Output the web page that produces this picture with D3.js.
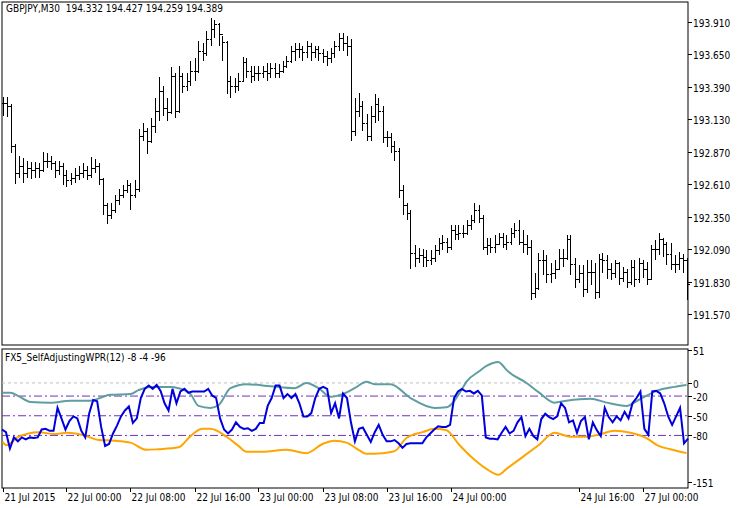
<!DOCTYPE html>
<html>
<head>
<meta charset="utf-8">
<script src="https://cdn.jsdelivr.net/npm/d3@7"></script>
<style>
  body { margin: 0; background: #fff; }
  text { font-family: "DejaVu Sans Condensed", "Liberation Sans Narrow", sans-serif; font-size: 10px; fill: #000; white-space: pre; }
</style>
</head>
<body>
<script>
// GBPJPY M30 bar chart with FX5_SelfAdjustingWPR sub-window

const closes = [193.26,193.24,192.92,192.70,192.76,192.70,192.74,192.72,192.74,192.72,
  192.80,192.80,192.78,192.72,192.76,192.68,192.64,192.66,192.68,192.70,
  192.72,192.68,192.74,192.76,192.65,192.44,192.36,192.40,192.48,192.52,
  192.56,192.60,192.52,192.57,193.00,193.04,192.96,193.08,193.20,193.36,
  193.22,193.19,193.48,193.20,193.48,193.40,193.44,193.52,193.52,193.68,
  193.66,193.77,193.85,193.89,193.81,193.75,193.44,193.40,193.40,193.44,
  193.59,193.52,193.48,193.50,193.50,193.52,193.50,193.54,193.50,193.52,
  193.56,193.60,193.68,193.69,193.69,193.67,193.72,193.67,193.69,193.66,
  193.64,193.62,193.66,193.72,193.78,193.74,193.72,193.04,193.20,193.24,
  193.10,193.00,193.16,193.25,193.20,192.99,192.99,192.92,192.88,192.56,
  192.44,192.38,192.06,192.02,192.04,192.03,192.00,192.02,192.08,192.14,
  192.15,192.11,192.24,192.21,192.22,192.22,192.28,192.32,192.40,192.34,
  192.11,192.12,192.11,192.13,192.19,192.13,192.15,192.22,192.24,192.15,
  192.13,192.11,191.74,191.78,192.00,192.00,191.89,191.90,191.93,192.02,
  192.02,192.17,191.97,191.85,191.90,191.77,191.91,191.91,191.75,192.01,
  192.00,191.93,191.90,191.98,191.86,191.91,191.83,191.95,191.85,191.98,
  191.93,191.85,192.09,192.09,192.17,192.13,192.05,191.97,191.97,192.02,
  192.00,191.81];

const highs = [193.31,193.31,193.25,192.93,192.84,192.82,192.80,192.79,192.79,192.78,
  192.87,192.86,192.84,192.80,192.80,192.78,192.72,192.70,192.74,192.76,
  192.78,192.76,192.83,192.81,192.78,192.66,192.46,192.46,192.52,192.57,
  192.60,192.64,192.62,192.64,193.05,193.10,193.06,193.14,193.30,193.47,
  193.40,193.30,193.55,193.50,193.56,193.50,193.50,193.60,193.62,193.76,
  193.74,193.84,193.94,193.93,193.90,193.80,193.76,193.48,193.46,193.50,
  193.63,193.62,193.56,193.56,193.56,193.56,193.58,193.58,193.58,193.57,
  193.60,193.64,193.72,193.74,193.74,193.72,193.76,193.74,193.72,193.72,
  193.69,193.68,193.70,193.76,193.82,193.82,193.80,193.77,193.30,193.34,
  193.28,193.17,193.24,193.33,193.30,193.24,193.04,193.02,192.96,192.90,
  192.60,192.46,192.40,192.12,192.10,192.09,192.08,192.08,192.12,192.18,
  192.20,192.18,192.28,192.28,192.28,192.28,192.32,192.36,192.46,192.44,
  192.36,192.18,192.18,192.20,192.22,192.22,192.20,192.26,192.30,192.32,
  192.24,192.20,192.16,191.90,192.06,192.08,192.04,191.98,192.00,192.09,
  192.09,192.20,192.20,192.02,191.96,191.96,192.00,192.00,191.98,192.05,
  192.06,192.04,191.98,192.00,191.99,191.95,191.93,192.00,192.00,192.02,
  192.00,191.99,192.12,192.16,192.22,192.18,192.15,192.14,192.04,192.07,
  192.05,192.02];

const lows = [193.16,193.15,192.86,192.61,192.66,192.62,192.66,192.65,192.66,192.66,
  192.71,192.74,192.72,192.66,192.68,192.60,192.59,192.60,192.62,192.64,
  192.66,192.64,192.66,192.70,192.60,192.36,192.29,192.33,192.38,192.44,
  192.50,192.54,192.40,192.50,192.55,192.96,192.85,192.94,193.02,193.12,
  193.16,193.12,193.17,193.14,193.18,193.34,193.36,193.40,193.44,193.50,
  193.60,193.64,193.72,193.78,193.72,193.60,193.33,193.30,193.34,193.36,
  193.44,193.46,193.42,193.44,193.44,193.46,193.44,193.46,193.46,193.46,
  193.50,193.54,193.58,193.60,193.62,193.60,193.62,193.60,193.62,193.60,
  193.58,193.56,193.58,193.62,193.68,193.68,193.64,192.96,193.00,193.15,
  193.04,192.96,192.96,193.10,193.12,192.94,192.91,192.86,192.80,192.50,
  192.36,192.32,191.93,191.95,191.98,191.95,191.95,191.96,191.99,192.04,
  192.08,192.06,192.08,192.16,192.16,192.18,192.20,192.24,192.30,192.30,
  192.08,192.04,192.06,192.06,192.12,192.10,192.08,192.12,192.18,192.12,
  192.06,192.04,191.68,191.70,191.76,191.88,191.82,191.82,191.85,191.92,
  191.95,192.00,191.88,191.78,191.82,191.71,191.74,191.80,191.69,191.70,
  191.90,191.85,191.84,191.86,191.80,191.83,191.78,191.80,191.79,191.82,
  191.86,191.80,191.84,192.00,192.04,192.03,191.96,191.92,191.90,191.92,
  191.90,191.68];

// WPR main line
const wpr = [-71,-75,-100,-83,-89,-83,-86,-83,-84,-83,
  -71,-70,-73,-73,-38,-54,-71,-58,-51,-54,
  -73,-83,-46,-26,-28,-67,-96,-93,-77,-65,
  -51,-42,-36,-61,-54,-23,-9,-4,-9,-3,
  -12,-31,-42,-9,-31,-13,-9,-15,-13,-13,
  -13,-13,-9,-19,-23,-54,-71,-77,-71,-60,
  -67,-70,-69,-73,-70,-61,-61,-35,-23,-4,
  -4,-23,-17,-23,-17,-31,-51,-51,-46,-23,
  -9,-6,-9,-46,-31,-54,-16,-23,-60,-89,
  -70,-68,-79,-90,-75,-64,-79,-89,-89,-87,
  -92,-99,-93,-92,-92,-92,-92,-83,-77,-71,
  -66,-67,-67,-64,-23,-13,-9,-13,-12,-16,
  -12,-19,-83,-85,-85,-86,-76,-67,-77,-73,
  -60,-52,-81,-70,-81,-86,-55,-47,-52,-55,
  -51,-31,-38,-60,-57,-76,-58,-52,-86,-60,
  -72,-81,-38,-52,-60,-51,-57,-44,-54,-31,
  -23,-13,-70,-79,-13,-12,-16,-31,-51,-64,
  -51,-38,-92,-85];

// adaptive upper / lower levels: [bar index, value]
const upperLevel = [[0,-15],[2,-15],[4,-20],[7,-29],[12,-30],[17,-27],[22,-27],[27,-18],[32,-17],
  [34,-11],[37,-6],[42,-6],[44,-8],[47,-17],[49,-35],[52,-38],[54,-34],[57,-8],[61,-2],[67,-5],
  [73,-8],[76,0],[79,-8],[82,-21],[85,-17],[88,-8],[91,2],[93,-2],[97,-2],[102,-23],[108,-38],
  [111,-37],[115,-8],[116,2],[119,17],[121,26],[124,32],[125,27],[126,20],[131,0],[134,-14],
  [138,-30],[141,-27],[147,-24],[151,-30],[156,-35],[159,-26],[164,-11],[168,-6],[171,-3]];

const lowerLevel = [[0,-90],[1,-95],[4,-82],[9,-75],[13,-78],[16,-76],[21,-81],[24,-87],[28,-88],
  [32,-91],[36,-102],[39,-101],[44,-98],[47,-81],[50,-70],[52,-70],[56,-82],[59,-96],[61,-105],
  [65,-105],[71,-102],[76,-107],[80,-93],[83,-88],[86,-91],[89,-102],[91,-108],[95,-107],
  [98,-104],[101,-84],[105,-75],[108,-70],[111,-72],[114,-93],[118,-117],[121,-131],[124,-140],
  [126,-131],[130,-113],[134,-95],[138,-76],[142,-82],[146,-82],[149,-79],[153,-73],[157,-76],
  [161,-84],[164,-96],[167,-101],[171,-107]];

const priceTicks = [193.910,193.650,193.390,193.130,192.870,192.610,192.350,192.090,191.830,191.570];
const wprTicks = [51,0,-20,-50,-80,-151];
const wprLevels = [-20,-50,-80];
const timeLabels = [
  {bar:0, text:"21 Jul 2015"},{bar:16, text:"22 Jul 00:00"},{bar:32, text:"22 Jul 08:00"},
  {bar:48, text:"22 Jul 16:00"},{bar:64, text:"23 Jul 00:00"},{bar:80, text:"23 Jul 08:00"},
  {bar:96, text:"23 Jul 16:00"},{bar:112, text:"24 Jul 00:00"},{bar:144, text:"24 Jul 16:00"},
  {bar:160, text:"27 Jul 00:00"}];

const W = 740, H = 508;
const left = 2, right = 688;
const main = {top: 2, bottom: 345};
const sub = {top: 349, bottom: 488};

const svg = d3.select("body").append("svg").attr("width", W).attr("height", H);

const x = d3.scaleLinear().domain([0, 171]).range([2.5, 686.5]);
const xw = d3.scaleLinear().domain([0, wpr.length - 1]).range([2, 688]);
const y = d3.scaleLinear().domain([191.570, 193.910]).range([314, 22]);
const yw = d3.scaleLinear().domain([51, -151]).range([349.5, 482]);

// panels
svg.append("rect").attr("x", left).attr("y", main.top).attr("width", right - left)
  .attr("height", main.bottom - main.top).attr("fill", "none").attr("stroke", "#000");
svg.append("rect").attr("x", left).attr("y", sub.top).attr("width", right - left)
  .attr("height", sub.bottom - sub.top).attr("fill", "none").attr("stroke", "#000");

// price bars
const bars = svg.append("g").attr("stroke", "#000").attr("stroke-width", 1).attr("shape-rendering", "crispEdges");
closes.forEach((c, i) => {
  const o = i === 0 ? c : closes[i - 1];
  const bx = Math.round(x(i)) + 0.5;
  bars.append("line").attr("x1", bx).attr("x2", bx).attr("y1", y(highs[i])).attr("y2", y(lows[i]));
  bars.append("line").attr("x1", bx - 2).attr("x2", bx).attr("y1", Math.round(y(o)) + 0.5).attr("y2", Math.round(y(o)) + 0.5);
  bars.append("line").attr("x1", bx).attr("x2", bx + 2).attr("y1", Math.round(y(c)) + 0.5).attr("y2", Math.round(y(c)) + 0.5);
});

// price axis
const pa = svg.append("g");
priceTicks.forEach(t => {
  const ty = Math.round(y(t)) + 0.5;
  pa.append("line").attr("x1", right).attr("x2", right + 4).attr("y1", ty).attr("y2", ty).attr("stroke", "#000");
  pa.append("text").attr("x", right + 5).attr("y", ty + 4).text(t.toFixed(3));
});

// indicator levels
svg.append("line").attr("x1", left).attr("x2", right).attr("y1", yw(0)).attr("y2", yw(0))
  .attr("stroke", "#c0c0c0").attr("stroke-dasharray", "3,3");
svg.selectAll(".lvl").data(wprLevels).join("line").attr("class", "lvl")
  .attr("x1", left).attr("x2", right).attr("y1", d => yw(d)).attr("y2", d => yw(d))
  .attr("stroke", "#6f34b8").attr("stroke-dasharray", "8,3,2,3");

const lineLv = d3.line().x(d => x(d[0])).y(d => yw(d[1])).curve(d3.curveMonotoneX);
svg.append("path").attr("d", lineLv(upperLevel)).attr("fill", "none").attr("stroke", "#5f9ea0").attr("stroke-width", 2);
svg.append("path").attr("d", lineLv(lowerLevel)).attr("fill", "none").attr("stroke", "#ffa500").attr("stroke-width", 2);
const lineW = d3.line().x((d, i) => xw(i)).y(d => yw(d));
svg.append("path").attr("d", lineW(wpr)).attr("fill", "none").attr("stroke", "#0000dd").attr("stroke-width", 2);

// indicator axis
wprTicks.forEach(t => {
  const ty = Math.round(yw(t)) + 0.5;
  svg.append("line").attr("x1", right).attr("x2", right + 4).attr("y1", ty).attr("y2", ty).attr("stroke", "#000");
  svg.append("text").attr("x", right + 5).attr("y", ty + 4).text(t);
});

// time axis
timeLabels.forEach(d => {
  const tx = Math.round(x(d.bar)) + 0.5;
  svg.append("line").attr("x1", tx).attr("x2", tx).attr("y1", sub.bottom).attr("y2", sub.bottom + 4).attr("stroke", "#000");
  svg.append("text").attr("x", tx + 1).attr("y", 501).text(d.text);
});

// titles
svg.append("text").attr("x", 6).attr("y", 12).text("GBPJPY,M30  194.332 194.427 194.259 194.389");
svg.append("text").attr("x", 5).attr("y", 361).text("FX5_SelfAdjustingWPR(12) -8 -4 -96");
</script>
</body>
</html>
